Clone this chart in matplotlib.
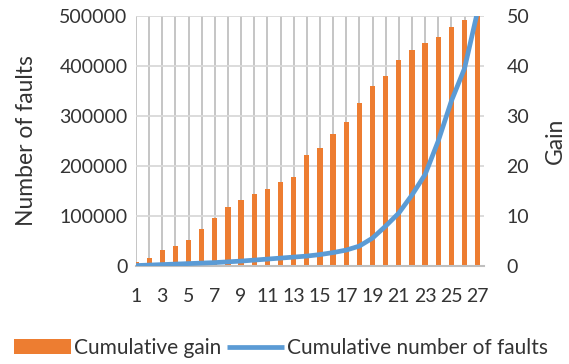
import numpy as np
import matplotlib
matplotlib.use("Agg")
import matplotlib.pyplot as plt

# data
kategorier = np.arange(1, 28)
gain = [0.8, 1.6, 3.3, 4.1, 5.3, 7.5, 9.7, 11.9, 13.3, 14.4, 15.5, 16.9, 17.9, 22.2,
        23.7, 26.4, 28.9, 32.7, 36.0, 38.1, 41.2, 43.2, 44.6, 45.9, 47.9, 49.3, 50.0]
faults = [1000, 2000, 3000, 4000, 5000, 6000, 7000, 8500, 10000, 12000, 14000, 16000,
          18000, 20000, 23000, 27000, 32000, 40000, 56000, 80000, 106000, 142000,
          183000, 250000, 330000, 395000, 510000]
xlabels = [str(k) if k % 2 == 1 else "" for k in kategorier]

plt.rcParams['font.family'] = ['Lato', 'DejaVu Sans']
orange = "#ED7D31"
blue = "#5B9BD5"
textfarg = "#333333"

fig = plt.figure(figsize=(5.69, 3.64), dpi=100)
ax = fig.add_axes([0.239, 0.269, 0.612, 0.687])  # bars, gain scale (right side)
ax2 = ax.twinx()  # line, faults scale (left side)

# gridlines
for g in kategorier:
    ax.axvline(g, color="#C0C0C0", lw=1.3, zorder=0)
for h in np.arange(10, 51, 10):
    ax.axhline(h, color="#D9D9D9", lw=1.3, zorder=0)

bars = ax.bar(kategorier, gain, width=0.4, color=orange, zorder=2, label="Cumulative gain")
line, = ax2.plot(kategorier, faults, color=blue, lw=3.4, solid_capstyle="butt",
                 label="Cumulative number of faults")

ax.set_xlim(1, 27.5)
ax.set_ylim(0, 50)
ax2.set_ylim(0, 500000)
ax.set_xticks(kategorier)
ax.set_xticklabels(xlabels)
ax.set_yticks(np.arange(0, 51, 10))
ax2.set_yticks(np.arange(0, 500001, 100000))

# swap sides so the line is on top but faults stays on the left
ax.yaxis.tick_right()
ax.yaxis.set_label_position("right")
ax2.yaxis.tick_left()
ax2.yaxis.set_label_position("left")

ax.tick_params(axis="x", length=0, pad=16, labelsize=14, colors=textfarg)
ax.tick_params(axis="y", length=0, pad=16, labelsize=14, colors=textfarg)
ax2.tick_params(axis="y", length=0, pad=6, labelsize=14, colors=textfarg)
for a in (ax, ax2):
    for s in a.spines.values():
        s.set_visible(False)
ax.spines["bottom"].set_visible(True)
ax.spines["bottom"].set_color("#BFBFBF")
ax.spines["bottom"].set_linewidth(1.5)

ax.set_ylabel("Gain", fontsize=16.5, color=textfarg, labelpad=11)
ax2.set_ylabel("Number of faults", fontsize=16.5, color=textfarg, labelpad=16)

fig.legend([bars, line], ["Cumulative gain", "Cumulative number of faults"],
           loc="center", bbox_to_anchor=(0.494, 0.044), ncol=2, frameon=False,
           fontsize=15, handlelength=2.7, handletextpad=0.15, columnspacing=0.3,
           labelcolor=textfarg)

fig.savefig("out.png", dpi=100)
